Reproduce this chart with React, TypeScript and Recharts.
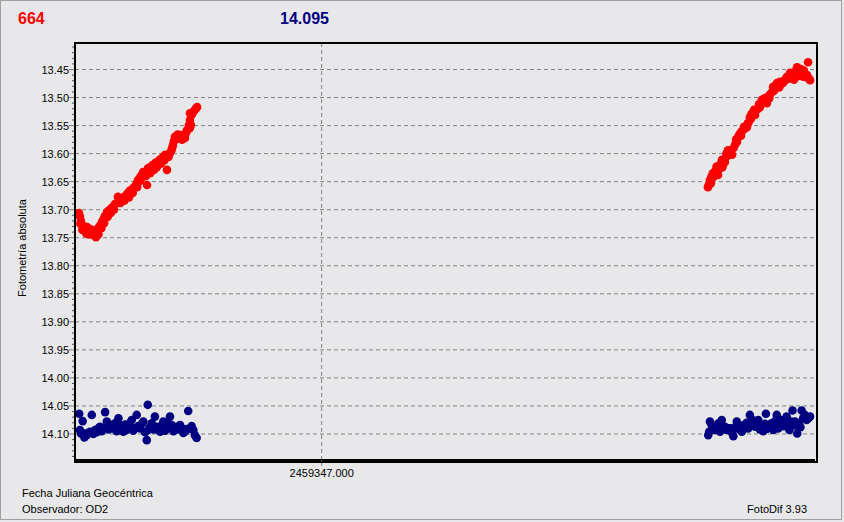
import React from 'react';
import { ScatterChart, Scatter, XAxis, YAxis, CartesianGrid } from 'recharts';

// x = JD - 2459347.000 (days), y = absolute magnitude
const redLeftX = [
  -0.0984, -0.098, -0.0976, -0.0972, -0.0968, -0.0962, -0.0958, -0.0951, -0.0947, -0.0943,
  -0.0939, -0.0933, -0.0927, -0.0921, -0.0915, -0.0911, -0.0907, -0.0903, -0.0897, -0.0891,
  -0.0886, -0.088, -0.0874, -0.087, -0.0864, -0.0858, -0.0852, -0.0846, -0.0838, -0.083,
  -0.0826, -0.082, -0.0812, -0.0805, -0.0797, -0.0789, -0.0785, -0.0777, -0.0769, -0.0763,
  -0.0757, -0.0751, -0.0745, -0.074, -0.0736, -0.073, -0.0724, -0.0716, -0.0708, -0.0704,
  -0.0698, -0.0692, -0.0684, -0.0678, -0.0672, -0.0664, -0.0657, -0.0647, -0.0641, -0.0635,
  -0.0627, -0.0621, -0.0615, -0.0609, -0.0603, -0.0599, -0.0595, -0.0588, -0.058, -0.0574,
  -0.0566, -0.056, -0.0554, -0.055, -0.0546, -0.054, -0.0534, -0.053, -0.0534, -0.0534,
  -0.0526, -0.0522, -0.0514, -0.0509, -0.0505,
  -0.0978, -0.097, -0.0955, -0.0945, -0.093, -0.0918, -0.0905, -0.0893, -0.0882, -0.0868,
  -0.0855, -0.0842, -0.0816, -0.08, -0.0781, -0.0766, -0.0748, -0.0733, -0.0712, -0.0695,
  -0.068, -0.0668, -0.0652, -0.0638, -0.0618, -0.0606, -0.0584, -0.057, -0.0556, -0.0538,
];
const redLeftY = [
  13.706, 13.712, 13.72, 13.727, 13.733, 13.73, 13.737, 13.731, 13.738, 13.734,
  13.74, 13.742, 13.745, 13.741, 13.749, 13.74, 13.737, 13.731, 13.728, 13.722,
  13.718, 13.712, 13.709, 13.704, 13.702, 13.7, 13.697, 13.695, 13.69, 13.688,
  13.677, 13.68, 13.681, 13.679, 13.676, 13.672, 13.67, 13.666, 13.665, 13.661,
  13.659, 13.654, 13.647, 13.65, 13.642, 13.638, 13.633, 13.636, 13.656, 13.626,
  13.63, 13.623, 13.62, 13.622, 13.616, 13.615, 13.611, 13.608, 13.605, 13.602,
  13.629, 13.606, 13.599, 13.594, 13.585, 13.578, 13.57, 13.574, 13.572, 13.57,
  13.575, 13.573, 13.572, 13.563, 13.558, 13.556, 13.554, 13.549, 13.54, 13.528,
  13.53, 13.526, 13.522, 13.519, 13.517,
  13.725, 13.736, 13.742, 13.744, 13.736, 13.744, 13.744, 13.733, 13.724, 13.713,
  13.706, 13.7, 13.688, 13.684, 13.678, 13.67, 13.66, 13.646, 13.64, 13.635,
  13.629, 13.624, 13.618, 13.612, 13.601, 13.59, 13.566, 13.567, 13.568, 13.549,
];

const redRightX = [
  0.1566, 0.157, 0.1574, 0.158, 0.1586, 0.1592, 0.1599, 0.1603, 0.1607, 0.1613,
  0.1619, 0.1623, 0.1627, 0.1631, 0.1635, 0.1641, 0.1647, 0.1651, 0.1656, 0.1664,
  0.167, 0.1676, 0.1684, 0.1688, 0.1692, 0.1698, 0.1704, 0.1708, 0.1716, 0.1724,
  0.173, 0.1736, 0.1742, 0.1749, 0.1757, 0.1763, 0.1769, 0.1777, 0.1781, 0.1785,
  0.1791, 0.1797, 0.1805, 0.1811, 0.1818, 0.1826, 0.183, 0.1836, 0.1842, 0.1846,
  0.1852, 0.1858, 0.1864, 0.187, 0.1878, 0.1882, 0.1886, 0.1891, 0.1899, 0.1905,
  0.1911, 0.1917, 0.1923, 0.1927, 0.1933, 0.1939, 0.1945, 0.1952, 0.1958, 0.1964,
  0.1968, 0.1972, 0.1976, 0.198,
  0.1578, 0.159, 0.1601, 0.1611, 0.1625, 0.1639, 0.166, 0.168, 0.17, 0.1712,
  0.1728, 0.174, 0.1753, 0.1773, 0.1793, 0.1815, 0.1834, 0.1855, 0.1874, 0.1895,
  0.1915, 0.193, 0.1942, 0.1955, 0.197,
];
const redRightY = [
  13.66, 13.655, 13.647, 13.641, 13.635, 13.633, 13.629, 13.634, 13.638, 13.622,
  13.617, 13.611, 13.62, 13.614, 13.615, 13.6, 13.594, 13.598, 13.602, 13.602,
  13.59, 13.584, 13.579, 13.571, 13.567, 13.563, 13.56, 13.558, 13.555, 13.553,
  13.545, 13.535, 13.53, 13.526, 13.531, 13.522, 13.52, 13.517, 13.508, 13.504,
  13.503, 13.501, 13.51, 13.498, 13.494, 13.49, 13.481, 13.484, 13.478, 13.474,
  13.477, 13.472, 13.475, 13.474, 13.469, 13.466, 13.463, 13.467, 13.456, 13.46,
  13.465, 13.458, 13.452, 13.446, 13.455, 13.454, 13.458, 13.463, 13.459, 13.462,
  13.46, 13.437, 13.466, 13.469,
  13.653, 13.641, 13.623, 13.628, 13.624, 13.607, 13.594, 13.575, 13.568, 13.552,
  13.546, 13.538, 13.522, 13.512, 13.508, 13.501, 13.488, 13.482, 13.471, 13.463,
  13.468, 13.462, 13.449, 13.452, 13.465,
];

const blueLeftX = [
  -0.0983, -0.098, -0.0976, -0.0969, -0.0966, -0.0962, -0.0953, -0.0946, -0.0939, -0.0932,
  -0.0926, -0.0919, -0.0912, -0.0905, -0.0899, -0.0892, -0.0885, -0.0878, -0.0871, -0.0864,
  -0.0858, -0.0851, -0.0845, -0.0838, -0.0831, -0.0824, -0.0818, -0.0811, -0.0804, -0.0797,
  -0.0791, -0.0784, -0.0777, -0.077, -0.0764, -0.0757, -0.075, -0.0743, -0.0736, -0.0729,
  -0.0723, -0.0716, -0.0709, -0.0705, -0.0703, -0.0696, -0.0689, -0.0682, -0.0676, -0.0669,
  -0.0662, -0.0655, -0.0648, -0.0642, -0.0635, -0.0628, -0.0621, -0.0615, -0.0608, -0.0601,
  -0.0595, -0.0588, -0.0581, -0.0574, -0.0567, -0.0561, -0.0554, -0.0547, -0.0541, -0.0534,
  -0.0527, -0.052, -0.0514, -0.0507,
];
const blueLeftY = [
  14.064, 14.093, 14.099, 14.077, 14.099, 14.106, 14.102, 14.098, 14.096, 14.066,
  14.1, 14.093, 14.097, 14.09, 14.087, 14.095, 14.09, 14.061, 14.078, 14.092,
  14.084, 14.088, 14.09, 14.081, 14.095, 14.072, 14.084, 14.091, 14.096, 14.083,
  14.093, 14.087, 14.08, 14.075, 14.094, 14.09, 14.066, 14.086, 14.09, 14.082,
  14.078, 14.097, 14.111, 14.048, 14.093, 14.088, 14.081, 14.092, 14.069, 14.087,
  14.093, 14.096, 14.085, 14.078, 14.094, 14.09, 14.082, 14.069, 14.084, 14.095,
  14.089, 14.087, 14.092, 14.084, 14.09, 14.098, 14.096, 14.091, 14.059, 14.09,
  14.086, 14.093, 14.102, 14.107,
];

const blueRightX = [
  0.1567, 0.1571, 0.1574, 0.1581, 0.1588, 0.1595, 0.1602, 0.1609, 0.1615, 0.1622,
  0.1628, 0.1635, 0.1642, 0.1648, 0.1655, 0.1662, 0.1669, 0.1676, 0.1683, 0.169,
  0.1696, 0.1703, 0.1709, 0.1716, 0.1723, 0.1729, 0.1736, 0.1743, 0.175, 0.1757,
  0.1763, 0.177, 0.1777, 0.1784, 0.179, 0.1797, 0.1801, 0.1804, 0.1811, 0.1818,
  0.1824, 0.1831, 0.1838, 0.1845, 0.1851, 0.1858, 0.1865, 0.1872, 0.1878, 0.1885,
  0.1892, 0.1896, 0.1902, 0.1909, 0.1914, 0.1919, 0.1928, 0.1935, 0.1941, 0.1946,
  0.1952, 0.1959, 0.1966, 0.1973, 0.198,
];
const blueRightY = [
  14.102, 14.096, 14.078, 14.084, 14.087, 14.093, 14.09, 14.081, 14.096, 14.075,
  14.09, 14.087, 14.093, 14.09, 14.09, 14.097, 14.104, 14.088, 14.078, 14.091,
  14.085, 14.096, 14.087, 14.083, 14.08, 14.09, 14.066, 14.074, 14.084, 14.087,
  14.081, 14.075, 14.092, 14.09, 14.095, 14.082, 14.064, 14.091, 14.087, 14.083,
  14.081, 14.093, 14.077, 14.066, 14.09, 14.084, 14.075, 14.086, 14.08, 14.069,
  14.083, 14.093, 14.078, 14.058, 14.085, 14.078, 14.099, 14.081, 14.088, 14.058,
  14.072, 14.066, 14.075, 14.072, 14.069,
];

const yMajorTicks = [13.45, 13.5, 13.55, 13.6, 13.65, 13.7, 13.75, 13.8, 13.85, 13.9, 13.95, 14.0, 14.05, 14.1];
const yAllTicks = [
  13.41, 13.42, 13.43, 13.44, 13.45, 13.46, 13.47, 13.48, 13.49, 13.5, 13.51, 13.52, 13.53, 13.54, 13.55,
  13.56, 13.57, 13.58, 13.59, 13.6, 13.61, 13.62, 13.63, 13.64, 13.65, 13.66, 13.67, 13.68, 13.69, 13.7,
  13.71, 13.72, 13.73, 13.74, 13.75, 13.76, 13.77, 13.78, 13.79, 13.8, 13.81, 13.82, 13.83, 13.84, 13.85,
  13.86, 13.87, 13.88, 13.89, 13.9, 13.91, 13.92, 13.93, 13.94, 13.95, 13.96, 13.97, 13.98, 13.99, 14.0,
  14.01, 14.02, 14.03, 14.04, 14.05, 14.06, 14.07, 14.08, 14.09, 14.1, 14.11, 14.12, 14.13, 14.14,
];
const xTicks = [0];
const jdBase = 2459347;

const zip = (xs: number[], ys: number[]) => xs.map((x, i) => ({ x, y: ys[i] }));
const redData = [...zip(redLeftX, redLeftY), ...zip(redRightX, redRightY)];
const blueData = [...zip(blueLeftX, blueLeftY), ...zip(blueRightX, blueRightY)];

const X_DOMAIN: [number, number] = [-0.1, 0.2];
const Y_DOMAIN: [number, number] = [13.4027, 14.1464];

const font = '"Liberation Sans", Arial, sans-serif';

const dot = (color: string) => (props: any) => (
  <circle cx={props.cx} cy={props.cy} r={4.3} fill={color} />
);

// left axis tick: long grey tick + label on majors, short dark tick on minors
const YTick = (props: any) => {
  const { x, y, payload } = props;
  const v: number = payload.value;
  const isMajor = yMajorTicks.some((t) => Math.abs(t - v) < 1e-6);
  const ax = x + 8; // axis line position (tick x is label anchor)
  if (!isMajor) {
    return <line x1={ax - 3} x2={ax} y1={y} y2={y} stroke="#505050" strokeWidth={1} />;
  }
  return (
    <g>
      <line x1={ax - 6} x2={ax} y1={y} y2={y} stroke="#808080" strokeWidth={1} />
      <text x={ax - 6} y={y} dy={4} textAnchor="end" fill="#000" fontSize={11} fontFamily={font}>
        {v.toFixed(2)}
      </text>
    </g>
  );
};

const App: React.FC = () => {
  return (
    <div style={{ position: 'absolute', left: 0, top: 0, width: 844, height: 522, background: '#E8E8EA', fontFamily: font }}>
      <div style={{ position: 'absolute', left: 0, top: 0, width: 840, height: 518, border: '1px solid #A0A0A0' }} />
      <div style={{ position: 'absolute', left: 18, top: 10, fontSize: 16, fontWeight: 'bold', color: '#FF0000' }}>664</div>
      <div style={{ position: 'absolute', left: 280, top: 10, fontSize: 16, fontWeight: 'bold', color: '#000080' }}>14.095</div>
      <div
        style={{
          position: 'absolute', left: 22, top: 248, fontSize: 11, color: '#000', whiteSpace: 'nowrap',
          transform: 'translate(-50%, -50%) rotate(-90deg)',
        }}
      >
        Fotometría absoluta
      </div>
      <div style={{ position: 'absolute', left: 22, top: 487, fontSize: 11, color: '#000' }}>Fecha Juliana Geocéntrica</div>
      <div style={{ position: 'absolute', left: 22, top: 503, fontSize: 11, color: '#000' }}>Observador: OD2</div>
      <div style={{ position: 'absolute', right: 37, top: 503, fontSize: 11, color: '#000' }}>FotoDif 3.93</div>
      <div style={{ position: 'absolute', left: 0, top: 0 }}>
        <ScatterChart width={844} height={522} margin={{ top: 43, right: 29, bottom: 32, left: 30 }}>
          <CartesianGrid stroke="#808080" strokeDasharray="4 3" horizontalValues={yMajorTicks} verticalValues={xTicks} />
          <XAxis
            type="number"
            dataKey="x"
            domain={X_DOMAIN}
            allowDataOverflow
            ticks={xTicks}
            tickFormatter={(v: number) => (jdBase + v).toFixed(3)}
            height={30}
            axisLine={{ stroke: '#000', strokeWidth: 2 }}
            tickLine={{ stroke: '#808080' }}
            tickSize={6}
            tickMargin={3}
            tick={{ fill: '#000', fontSize: 11, fontFamily: font }}
          />
          <YAxis
            type="number"
            dataKey="y"
            domain={Y_DOMAIN}
            allowDataOverflow
            reversed
            ticks={yAllTicks}
            interval={0}
            width={45}
            axisLine={{ stroke: '#000', strokeWidth: 2 }}
            tickLine={false}
            tickSize={0}
            tickMargin={8}
            tick={<YTick />}
          />
          <Scatter data={redData} fill="#FF0000" shape={dot('#FF0000')} isAnimationActive={false} />
          <Scatter data={blueData} fill="#000080" shape={dot('#000080')} isAnimationActive={false} />
        </ScatterChart>
      </div>
      <div
        style={{
          position: 'absolute', left: 74, top: 42, width: 740, height: 417,
          border: '2px solid #000', pointerEvents: 'none',
        }}
      />
    </div>
  );
};

export default App;
